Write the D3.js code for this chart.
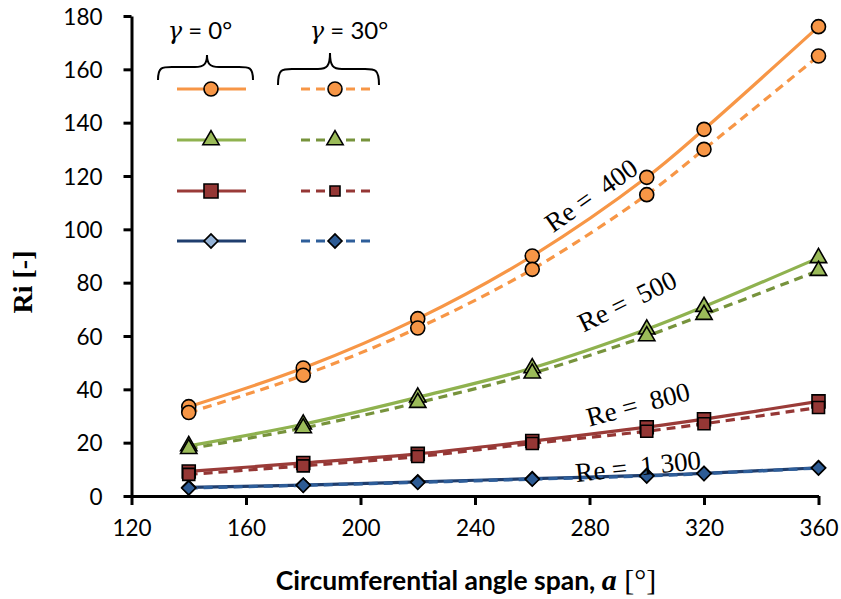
<!DOCTYPE html>
<html><head><meta charset="utf-8">
<script src="https://cdn.jsdelivr.net/npm/d3@7"></script>
<style>body{margin:0;background:#fff}svg{display:block}</style>
</head><body><svg id="c" width="841" height="599"></svg>
<script>
// ---------- data ----------
const angles = [140, 180, 220, 260, 300, 320, 360];
const re400_g0  = [33.5, 48, 66.5, 90, 119.5, 137.5, 176];
const re400_g30 = [31.3, 45.3, 63, 85, 113, 130, 165];
const re500_g0  = [18.8, 26.9, 37, 48, 62.5, 71, 89.3];
const re500_g30 = [17.7, 25.5, 35, 46, 60, 68, 84.5];
const re800_g0  = [9.2, 12.4, 15.8, 20.6, 25.8, 28.8, 35.5];
const re800_g30 = [8.1, 11.3, 14.8, 19.7, 24.3, 27.1, 33.2];
const re1300_g0  = [3.2, 4.1, 5.3, 6.5, 7.7, 8.5, 10.6];
const re1300_g30 = [3.0, 4.0, 5.1, 6.3, 7.5, 8.4, 10.5];
const xTicks = [120, 160, 200, 240, 280, 320, 360];
const yTicks = [0, 20, 40, 60, 80, 100, 120, 140, 160, 180];
const reLabels = ["Re =  400", "Re =  500", "Re =  800", "Re =  1 300"];
const legendTitles = ["0°", "30°"];

// ---------- styles / config ----------
const series = [
  {g0: re400_g0, g30: re400_g30, sym: "circle", c0: "#F79646", c30: "#F79646", f0: "#F79646", f30: "#F79646"},
  {g0: re500_g0, g30: re500_g30, sym: "triangle", c0: "#8FB24F", c30: "#77933C", f0: "#9BBB59", f30: "#9BBB59"},
  {g0: re800_g0, g30: re800_g30, sym: "square", c0: "#9A3B38", c30: "#953735", f0: "#953735", f30: "#953735"},
  {g0: re1300_g0, g30: re1300_g30, sym: "diamond", c0: "#1F3E6E", c30: "#2E5E9A", f0: "#95B3D7", f30: "#2D5B94"}
];

const svg = d3.select("#c");
const x = d3.scaleLinear().domain([120, 360]).range([131.5, 818.5]);
const y = d3.scaleLinear().domain([0, 180]).range([496, 16]);

function symbolPath(sym, size) {
  if (sym === "circle") return d3.symbol(d3.symbolCircle, Math.PI * size * size / 4)();
  if (sym === "triangle") return d3.symbol(d3.symbolTriangle, size * size * 0.45)();
  if (sym === "square") return d3.symbol(d3.symbolSquare, size * size)();
  return d3.symbol(d3.symbolSquare, size * size / 2)();
}
function symbolTransform(sym, px, py) {
  return `translate(${px},${py})` + (sym === "diamond" ? " rotate(45)" : "");
}
const symSize = {circle: [14, 14], triangle: [16, 16], square: [13, 12], diamond: [14, 14]};

// ---------- axes ----------
const yAxis = d3.axisLeft(y).tickValues(yTicks).tickSize(8).tickSizeOuter(0).tickPadding(21);
const gy = svg.append("g").attr("transform", `translate(${x(120)},0)`).call(yAxis);
const xAxis = d3.axisBottom(x).tickValues(xTicks).tickSize(9).tickSizeOuter(0).tickPadding(15);
const gx = svg.append("g").attr("transform", `translate(0,${y(0)})`).call(xAxis);
[gy, gx].forEach(g => {
  g.select(".domain").attr("stroke", "#000").attr("stroke-width", 3);
  g.selectAll(".tick line").attr("stroke", "#000").attr("stroke-width", 3);
  g.selectAll(".tick text").attr("font-family", "Lato, 'Open Sans', sans-serif").attr("font-size", 22.5).attr("fill", "#000");
});
gy.selectAll(".tick text").attr("dy", "0.36em");

// axis titles
svg.append("text").attr("transform", "translate(32,282) rotate(-90)")
  .attr("text-anchor", "middle").attr("font-family", "'Liberation Serif', 'Times New Roman', serif")
  .attr("font-weight", "bold").attr("font-size", 28).text("Ri [-]");
const xt = svg.append("text").attr("x", 466).attr("y", 590).attr("text-anchor", "middle")
  .attr("font-family", "Lato, sans-serif").attr("font-weight", "bold").attr("font-size", 26.5);
xt.append("tspan").text("Circumferential angle span, ");
xt.append("tspan").attr("font-family", "'Liberation Serif', serif").attr("font-style", "italic").attr("font-size", 30).text("a");
xt.append("tspan").attr("font-family", "'Liberation Serif', serif").attr("font-weight", "normal").attr("font-size", 30).text(" [°]");

// ---------- series ----------
const line = d3.line().x((d, i) => x(angles[i])).y(d => y(d)).curve(d3.curveCatmullRom.alpha(0.5));
series.slice().reverse().forEach(s => {
  svg.append("path").attr("d", line(s.g0)).attr("fill", "none").attr("stroke", s.c0).attr("stroke-width", 3.2);
  svg.append("path").attr("d", line(s.g30)).attr("fill", "none").attr("stroke", s.c30).attr("stroke-width", 3.2).attr("stroke-dasharray", "9,6");
});
series.slice().reverse().forEach(s => {
  [["g0", "f0", 0], ["g30", "f30", 1]].forEach(([k, f, j]) => {
    svg.append("g").selectAll("path").data(s[k]).join("path")
      .attr("d", symbolPath(s.sym, symSize[s.sym][j]))
      .attr("transform", (d, i) => symbolTransform(s.sym, x(angles[i]), y(d)))
      .attr("fill", s[f]).attr("stroke", "#000").attr("stroke-width", 1.6);
  });
});

// ---------- Re labels ----------
const labelPos = [[591, 195, -35], [627, 301, -26], [638, 404, -15], [638, 466, -6]];
reLabels.forEach((t, i) => {
  svg.append("text").attr("transform", `translate(${labelPos[i][0]},${labelPos[i][1]}) rotate(${labelPos[i][2]})`)
    .attr("text-anchor", "middle").attr("dy", "0.35em").attr("xml:space", "preserve").style("white-space", "pre")
    .attr("font-family", "'Liberation Serif', 'Times New Roman', serif").attr("font-size", 27).text(t);
});

// ---------- legend ----------
const lgX0 = [[177, 246, 211], [301, 371, 335]];
const lgY = [89, 140, 191, 241];
legendTitles.forEach((t, j) => {
  const tx = svg.append("text").attr("x", j === 0 ? 200 : 349).attr("y", 39).attr("text-anchor", "middle")
    .attr("font-family", "Lato, sans-serif").attr("font-size", 24);
  tx.append("tspan").attr("font-family", "'DejaVu Serif', serif").attr("font-style", "italic").text("γ");
  tx.append("tspan").text(" = " + t);
});
const braces = [[158, 253, 207, 80, 67, 55], [278, 379, 330, 85, 69, 53]];
braces.forEach(([x0, x1, xm, yb, yh, yt]) => {
  const p = `M${x0},${yb} C${x0},${yh} ${x0 + 4},${yh} ${x0 + 14},${yh} L${xm - 12},${yh} C${xm - 3},${yh} ${xm},${yh - 3} ${xm},${yt} C${xm},${yh - 3} ${xm + 3},${yh} ${xm + 12},${yh} L${x1 - 14},${yh} C${x1 - 4},${yh} ${x1},${yh} ${x1},${yb}`;
  svg.append("path").attr("d", p).attr("fill", "none").attr("stroke", "#000").attr("stroke-width", 2);
});
series.forEach((s, i) => {
  const yy = lgY[i];
  [0, 1].forEach(j => {
    const [a, b, m] = lgX0[j];
    svg.append("line").attr("x1", a).attr("x2", b).attr("y1", yy).attr("y2", yy)
      .attr("stroke", j ? s.c30 : s.c0).attr("stroke-width", 3.2).attr("stroke-dasharray", j ? "9,6" : null);
    const sz = s.sym === "square" ? (j ? 10 : 14) : symSize[s.sym][j];
    svg.append("path").attr("d", symbolPath(s.sym, sz)).attr("transform", symbolTransform(s.sym, m, yy))
      .attr("fill", j ? s.f30 : s.f0).attr("stroke", "#000").attr("stroke-width", 1.6);
  });
});
</script></body></html>
